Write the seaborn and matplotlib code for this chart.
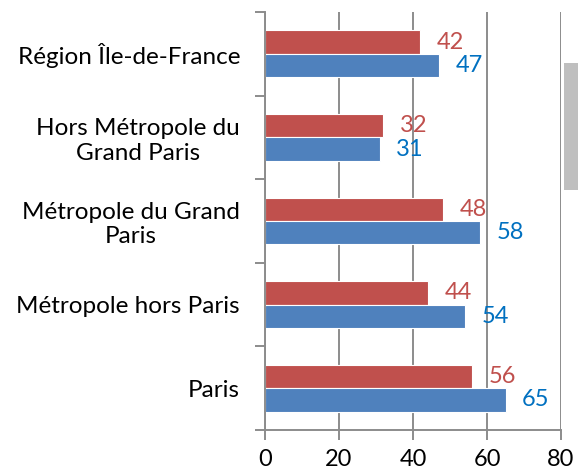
import matplotlib
matplotlib.use("Agg")
import matplotlib.pyplot as plt
import matplotlib.patches as mpatches
import numpy as np
import pandas as pd
import seaborn as sns

# Data
categories = [
    "Région Île-de-France",
    "Hors Métropole du\nGrand Paris",
    "Métropole du Grand\nParis",
    "Métropole hors Paris",
    "Paris",
]
series_names = ["Série 1", "Série 2"]
values_red = [42, 32, 48, 44, 56]
values_blue = [47, 31, 58, 54, 65]
x_ticks = [0, 20, 40, 60, 80]

RED = "#C0504D"
BLUE = "#4F81BD"
RED_TXT = "#C0504D"
BLUE_TXT = "#0070C0"
GRID = "#8C8C8C"

df = pd.DataFrame({
    "categorie": categories * 2,
    "serie": [series_names[0]] * len(categories) + [series_names[1]] * len(categories),
    "valeur": values_red + values_blue,
})

sns.set_theme(style="white")
plt.rcParams["font.family"] = ["Lato", "DejaVu Sans"]

fig = plt.figure(figsize=(5.78, 4.73), dpi=100)
ax = fig.add_axes([0.4585, 0.0909, 0.5121, 0.8837])

sns.barplot(
    data=df, x="valeur", y="categorie", hue="serie",
    order=categories, hue_order=series_names,
    palette=[RED, BLUE], saturation=1, orient="h", width=0.56,
    edgecolor="white", linewidth=0.8, legend=False, ax=ax,
)

ax.set_xlim(0, 80)
ax.set_ylim(len(categories) - 0.5, -0.5)
ax.set_xlabel("")
ax.set_ylabel("")

# value labels
for container, color in zip(ax.containers, [RED_TXT, BLUE_TXT]):
    ax.bar_label(container, padding=12, color=color, fontsize=17)

# gridlines
ax.set_xticks(x_ticks)
ax.set_xticklabels([str(t) for t in x_ticks], fontsize=17, color="black")
ax.xaxis.grid(True, color=GRID, linewidth=1.4)
ax.yaxis.grid(False)
ax.set_axisbelow(True)

# ticks
ax.tick_params(axis="x", length=7, width=1.4, color=GRID, pad=7, direction="out", bottom=True)
ax.tick_params(axis="y", which="major", length=0, pad=18, labelsize=17.5)
ax.set_yticks(np.arange(-0.5, len(categories), 1.0), minor=True)
ax.tick_params(axis="y", which="minor", length=7, width=1.4, color=GRID, left=True)
for lbl in ax.get_yticklabels():
    lbl.set_multialignment("center")
    lbl.set_color("black")
    lbl.set_linespacing(1.2)

for side in ["top", "right"]:
    ax.spines[side].set_visible(False)
for side in ["left", "bottom"]:
    ax.spines[side].set_color(GRID)
    ax.spines[side].set_linewidth(1.4)

# partial grey box at right edge
fig.patches.append(mpatches.Rectangle(
    (564 / 578, 1 - 190 / 473), 14 / 578, 127 / 473,
    transform=fig.transFigure, facecolor="#BFBFBF", edgecolor="none",
))

fig.savefig("out.png", dpi=100)
